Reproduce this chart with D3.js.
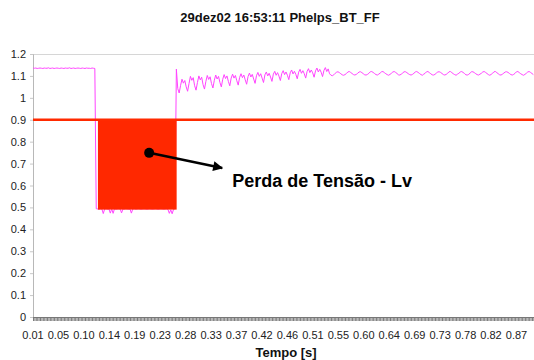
<!DOCTYPE html>
<html>
<head>
<meta charset="utf-8">
<script src="https://cdn.jsdelivr.net/npm/d3@7"></script>
<style>
  html, body { margin: 0; padding: 0; background: #fff; }
  svg { display: block; font-family: "Liberation Sans", Arial, sans-serif; }
</style>
</head>
<body>
<svg id="chart" width="534" height="360"></svg>
<script>
// ---- data ----
const chartTitle = "29dez02 16:53:11 Phelps_BT_FF";
const xTitle = "Tempo [s]";
const annotationText = "Perda de Tensão - Lv";

const xTickLabels = ["0.01","0.05","0.10","0.14","0.19","0.23","0.28","0.33","0.37","0.42",
                     "0.46","0.51","0.55","0.60","0.64","0.69","0.73","0.78","0.82","0.87"];
const yTicks = [0, 0.1, 0.2, 0.3, 0.4, 0.5, 0.6, 0.7, 0.8, 0.9, 1, 1.1, 1.2];

const sampleStart = 0.01;   // s
const sampleStep = 0.0025;  // s
const voltage = [
  // pre-fault
  1.136, 1.135, 1.136, 1.134, 1.135, 1.136, 1.135, 1.134, 1.136, 1.135,
  1.135, 1.137, 1.134, 1.135, 1.136, 1.134, 1.135, 1.136, 1.135, 1.134,
  1.136, 1.135, 1.134, 1.136, 1.135, 1.135, 1.137, 1.134, 1.135, 1.136,
  1.134, 1.135, 1.136, 1.135, 1.134, 1.136, 1.135, 1.134, 1.136, 1.135,
  1.135, 1.134, 1.136, 1.135, 1.134,
  // sag
  0.494, 0.493, 0.492, 0.494, 0.493, 0.472, 0.493, 0.494, 0.492, 0.493,
  0.474, 0.493, 0.473, 0.494, 0.492, 0.493, 0.494, 0.493, 0.475, 0.493,
  0.492, 0.494, 0.493, 0.492, 0.493, 0.474, 0.493, 0.494, 0.492, 0.493,
  0.494, 0.493, 0.492, 0.493, 0.494, 0.493, 0.492, 0.493, 0.494, 0.493,
  0.492, 0.493, 0.494, 0.493, 0.492, 0.493, 0.494, 0.493, 0.492, 0.493,
  0.494, 0.491, 0.473, 0.489, 0.471, 0.491, 0.494,
  // recovery
  1.131,
  1.042, 1.022, 1.057, 1.085, 1.067, 1.079,
  1.050, 1.030, 1.065, 1.098, 1.080, 1.092,
  1.055, 1.035, 1.070, 1.100, 1.082, 1.094,
  1.060, 1.040, 1.075, 1.102, 1.084, 1.096,
  1.065, 1.045, 1.080, 1.104, 1.086, 1.098,
  1.070, 1.050, 1.085, 1.106, 1.088, 1.100,
  1.075, 1.055, 1.090, 1.108, 1.090, 1.102,
  1.078, 1.058, 1.093, 1.110, 1.092, 1.104,
  1.082, 1.062, 1.097, 1.113, 1.095, 1.107,
  1.086, 1.066, 1.101, 1.116, 1.098, 1.110,
  1.090, 1.070, 1.105, 1.118, 1.100, 1.112,
  1.095, 1.075, 1.108, 1.121, 1.103, 1.115,
  1.099, 1.079, 1.111, 1.124, 1.106, 1.118,
  1.103, 1.083, 1.114, 1.127, 1.109, 1.121,
  1.107, 1.087, 1.117, 1.130, 1.112, 1.124,
  1.110, 1.090, 1.120, 1.133, 1.115, 1.127,
  1.114, 1.094, 1.123, 1.136, 1.118, 1.130,
  1.117, 1.097, 1.125, 1.138, 1.120, 1.132,
  // steady state
  1.110, 1.103, 1.101, 1.105, 1.112, 1.117, 1.119, 1.115,
  1.110, 1.105, 1.103, 1.106, 1.111, 1.118, 1.120, 1.116,
  1.111, 1.106, 1.104, 1.107, 1.112, 1.118, 1.119, 1.115,
  1.110, 1.105, 1.104, 1.107, 1.112, 1.119, 1.120, 1.116,
  1.111, 1.106, 1.104, 1.108, 1.113, 1.119, 1.120, 1.115,
  1.110, 1.106, 1.103, 1.107, 1.112, 1.118, 1.120, 1.116,
  1.111, 1.105, 1.104, 1.108, 1.113, 1.119, 1.119, 1.115,
  1.110, 1.106, 1.104, 1.107, 1.112, 1.118, 1.120, 1.116,
  1.111, 1.106, 1.103, 1.108, 1.112, 1.119, 1.120, 1.115,
  1.110, 1.105, 1.104, 1.107, 1.113, 1.118, 1.119, 1.116,
  1.111, 1.106, 1.104, 1.107, 1.112, 1.119, 1.120, 1.115,
  1.110, 1.106, 1.103, 1.108, 1.112, 1.118, 1.120, 1.116,
  1.111, 1.105, 1.104, 1.107, 1.113, 1.119, 1.119, 1.115,
  1.110, 1.106, 1.104, 1.108, 1.112, 1.118, 1.120, 1.116,
  1.111, 1.106, 1.103, 1.107, 1.112, 1.119, 1.120, 1.115,
  1.110, 1.105, 1.104, 1.108, 1.113, 1.118, 1.119, 1.116,
  1.111, 1.106, 1.104, 1.107, 1.112, 1.119, 1.120, 1.115,
  1.110, 1.106, 1.103, 1.107, 1.112, 1.118, 1.120, 1.116,
  1.111, 1.106
];

const threshold = 0.9;
const lossStart = 0.1255, lossEnd = 0.2655, lossBottom = 0.49;
const annotDot = [0.2166, 0.749];
const annotArrowEnd = [0.3465, 0.680];
const annotTextPos = [0.3643, 0.594];

// ---- layout ----
const svg = d3.select("#chart");
const plotLeft = 33, plotRight = 534, plotTop = 54, plotBottom = 317;
const xFirst = 33, xLast = 516.5;

const x = d3.scaleLinear().domain([0.01, 0.87]).range([xFirst, xLast]);
const xLab = d3.scalePoint().domain(xTickLabels).range([xFirst, xLast]);
const y = d3.scaleLinear().domain([0, 1.2]).range([plotBottom, plotTop]);

const data = voltage.map((v, i) => ({ t: sampleStart + i * sampleStep, v }));

// title
svg.append("text").attr("x", 280).attr("y", 22).attr("text-anchor", "middle")
  .attr("font-size", 13).attr("font-weight", "bold").attr("fill", "#111").text(chartTitle);

// top grid line
svg.append("line").attr("x1", plotLeft).attr("x2", plotRight).attr("y1", y(1.2) + 0.5).attr("y2", y(1.2) + 0.5)
  .attr("stroke", "#d6d6d6").attr("stroke-width", 1);

// y axis
const yAxis = d3.axisLeft(y).tickValues(yTicks).tickSize(3).tickPadding(4)
  .tickFormat(d => String(+d.toFixed(1)));
const gy = svg.append("g").attr("transform", `translate(${plotLeft},0)`).call(yAxis);
gy.select(".domain").attr("stroke", "#b8b8b8");
gy.selectAll(".tick line").attr("stroke", "#c8c8c8");
gy.selectAll(".tick text").attr("font-size", 11).attr("fill", "#222")
  .attr("font-family", "Liberation Sans, Arial, sans-serif");

// x axis: dense category ticks
const gx = svg.append("g");
gx.selectAll("line.cat").data(data).join("line").attr("class", "cat")
  .attr("x1", d => x(d.t) + 0.5).attr("x2", d => x(d.t) + 0.5)
  .attr("y1", plotBottom).attr("y2", plotBottom + 4)
  .attr("stroke", "#5a5a5a").attr("stroke-width", 0.8);
gx.append("line").attr("x1", plotLeft).attr("x2", plotRight).attr("y1", plotBottom + 0.5).attr("y2", plotBottom + 0.5)
  .attr("stroke", "#777").attr("stroke-width", 1);
gx.selectAll("text.xl").data(xTickLabels).join("text").attr("class", "xl")
  .attr("x", d => xLab(d)).attr("y", 339).attr("text-anchor", "middle")
  .attr("font-size", 11).attr("fill", "#222").text(d => d);

svg.append("text").attr("x", 286).attr("y", 357).attr("text-anchor", "middle")
  .attr("font-size", 13).attr("font-weight", "bold").attr("fill", "#111").text(xTitle);

// voltage line
const line = d3.line().x(d => x(d.t)).y(d => y(d.v));
svg.append("path").datum(data).attr("d", line).attr("fill", "none")
  .attr("stroke", "#ff44ff").attr("stroke-width", 1);

// loss rectangle
svg.append("rect").attr("x", x(lossStart)).attr("y", y(threshold))
  .attr("width", x(lossEnd) - x(lossStart)).attr("height", y(lossBottom) - y(threshold))
  .attr("fill", "#ff2800");

// threshold line
svg.append("line").attr("x1", plotLeft).attr("x2", plotRight).attr("y1", y(threshold)).attr("y2", y(threshold))
  .attr("stroke", "#ff2a00").attr("stroke-width", 2.5);

// annotation
const defs = svg.append("defs");
defs.append("marker").attr("id", "arrow").attr("viewBox", "0 0 10 10")
  .attr("refX", 9).attr("refY", 5).attr("markerWidth", 4.5).attr("markerHeight", 4)
  .attr("markerUnits", "strokeWidth").attr("orient", "auto")
  .append("path").attr("d", "M0,0 L10,5 L0,10 Z").attr("fill", "#000");

svg.append("line").attr("x1", x(annotDot[0])).attr("y1", y(annotDot[1]))
  .attr("x2", x(annotArrowEnd[0])).attr("y2", y(annotArrowEnd[1]))
  .attr("stroke", "#000").attr("stroke-width", 2.5).attr("marker-end", "url(#arrow)");
svg.append("circle").attr("cx", x(annotDot[0])).attr("cy", y(annotDot[1])).attr("r", 5).attr("fill", "#000");
svg.append("text").attr("x", x(annotTextPos[0])).attr("y", y(annotTextPos[1]))
  .attr("font-size", 18).attr("font-weight", "bold").attr("fill", "#000").text(annotationText);
</script>
</body>
</html>
